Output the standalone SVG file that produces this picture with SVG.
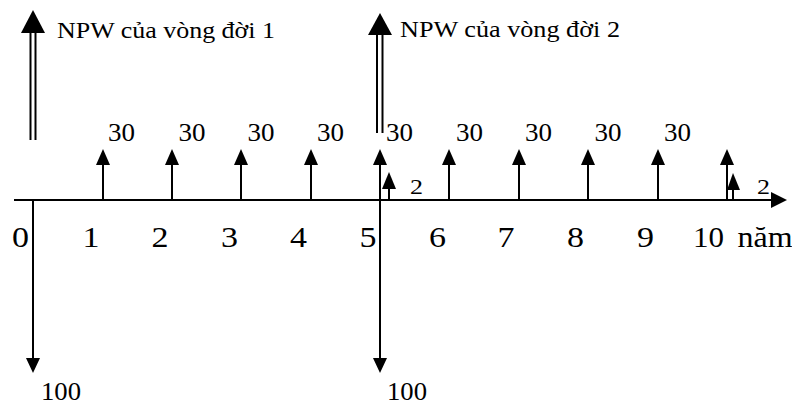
<svg xmlns="http://www.w3.org/2000/svg" width="792" height="404" viewBox="0 0 792 404">
<style>
text{font-family:"Liberation Serif","Times New Roman",serif;fill:#000}
.ax{font-size:29.5px;text-anchor:middle}
.v{font-size:25px}
.s{font-size:21px}
.npw{font-size:23.5px}
.ln{stroke:#000;stroke-width:2;fill:none}
.hd{fill:#000}
</style>
<rect width="792" height="404" fill="#fff"/>
<g id="connectors">
<line class="ln" x1="14" y1="200" x2="774" y2="200"/>
<polygon class="hd" points="787,200 771,192 771,208"/>
<line class="ln" x1="30.5" y1="140" x2="30.5" y2="32"/>
<line class="ln" x1="35.5" y1="140" x2="35.5" y2="32"/>
<polygon class="hd" points="33,10 21,33 45,33"/>
<line class="ln" x1="377" y1="133" x2="377" y2="34"/>
<line class="ln" x1="382.5" y1="133" x2="382.5" y2="34"/>
<polygon class="hd" points="380,13 368,35 392,35"/>
<line class="ln" x1="33" y1="200" x2="33" y2="360"/>
<polygon class="hd" points="33,373 26,358 40,358"/>
<line class="ln" x1="380" y1="200" x2="380" y2="360"/>
<polygon class="hd" points="380,373 373,358 387,358"/>
<line class="ln" x1="103" y1="200" x2="103" y2="163"/><polygon class="hd" points="103,149 96,165 110,165"/>
<line class="ln" x1="172" y1="200" x2="172" y2="163"/><polygon class="hd" points="172,149 165,165 179,165"/>
<line class="ln" x1="241" y1="200" x2="241" y2="163"/><polygon class="hd" points="241,149 234,165 248,165"/>
<line class="ln" x1="311" y1="200" x2="311" y2="163"/><polygon class="hd" points="311,149 304,165 318,165"/>
<line class="ln" x1="380" y1="200" x2="380" y2="163"/><polygon class="hd" points="380,149 373,165 387,165"/>
<line class="ln" x1="449" y1="200" x2="449" y2="163"/><polygon class="hd" points="449,149 442,165 456,165"/>
<line class="ln" x1="519" y1="200" x2="519" y2="163"/><polygon class="hd" points="519,149 512,165 526,165"/>
<line class="ln" x1="588" y1="200" x2="588" y2="163"/><polygon class="hd" points="588,149 581,165 595,165"/>
<line class="ln" x1="658" y1="200" x2="658" y2="163"/><polygon class="hd" points="658,149 651,165 665,165"/>
<line class="ln" x1="727" y1="200" x2="727" y2="163"/><polygon class="hd" points="727,149 720,165 734,165"/>
<line class="ln" x1="389" y1="200" x2="389" y2="187"/><polygon class="hd" points="389,172 382,189 396,189"/>
<line class="ln" x1="733" y1="200" x2="733" y2="187"/><polygon class="hd" points="733,173 727,190 740,190"/>
</g>
<g id="labels">
<text class="npw" x="57" y="38" textLength="218" lengthAdjust="spacingAndGlyphs">NPW của vòng đời 1</text>
<text class="npw" x="400" y="37" textLength="220" lengthAdjust="spacingAndGlyphs">NPW của vòng đời 2</text>
<text class="v" x="108" y="141" textLength="27" lengthAdjust="spacingAndGlyphs">30</text>
<text class="v" x="178.5" y="141" textLength="27" lengthAdjust="spacingAndGlyphs">30</text>
<text class="v" x="247.5" y="141" textLength="27" lengthAdjust="spacingAndGlyphs">30</text>
<text class="v" x="317" y="141" textLength="27" lengthAdjust="spacingAndGlyphs">30</text>
<text class="v" x="386" y="141" textLength="27" lengthAdjust="spacingAndGlyphs">30</text>
<text class="v" x="456" y="141" textLength="27" lengthAdjust="spacingAndGlyphs">30</text>
<text class="v" x="525" y="141" textLength="27" lengthAdjust="spacingAndGlyphs">30</text>
<text class="v" x="594.5" y="141" textLength="27" lengthAdjust="spacingAndGlyphs">30</text>
<text class="v" x="664" y="141" textLength="27" lengthAdjust="spacingAndGlyphs">30</text>
<text class="s" x="410" y="194" textLength="13" lengthAdjust="spacingAndGlyphs">2</text>
<text class="s" x="757" y="194" textLength="13" lengthAdjust="spacingAndGlyphs">2</text>
<text class="v" x="41" y="400" textLength="40" lengthAdjust="spacingAndGlyphs">100</text>
<text class="v" x="387" y="400" textLength="40" lengthAdjust="spacingAndGlyphs">100</text>
<text class="ax" x="20.5" y="247" textLength="17" lengthAdjust="spacingAndGlyphs">0</text>
<text class="ax" x="91" y="247" textLength="17" lengthAdjust="spacingAndGlyphs">1</text>
<text class="ax" x="160" y="247" textLength="17" lengthAdjust="spacingAndGlyphs">2</text>
<text class="ax" x="229.5" y="247" textLength="17" lengthAdjust="spacingAndGlyphs">3</text>
<text class="ax" x="298.5" y="247" textLength="17" lengthAdjust="spacingAndGlyphs">4</text>
<text class="ax" x="368" y="247" textLength="17" lengthAdjust="spacingAndGlyphs">5</text>
<text class="ax" x="437.5" y="247" textLength="17" lengthAdjust="spacingAndGlyphs">6</text>
<text class="ax" x="506" y="247" textLength="17" lengthAdjust="spacingAndGlyphs">7</text>
<text class="ax" x="575.5" y="247" textLength="17" lengthAdjust="spacingAndGlyphs">8</text>
<text class="ax" x="645.5" y="247" textLength="17" lengthAdjust="spacingAndGlyphs">9</text>
<text class="ax" x="708.5" y="247" textLength="31" lengthAdjust="spacingAndGlyphs">10</text>
<text class="ax" x="765" y="247" textLength="55" lengthAdjust="spacingAndGlyphs">năm</text>
</g>
</svg>
